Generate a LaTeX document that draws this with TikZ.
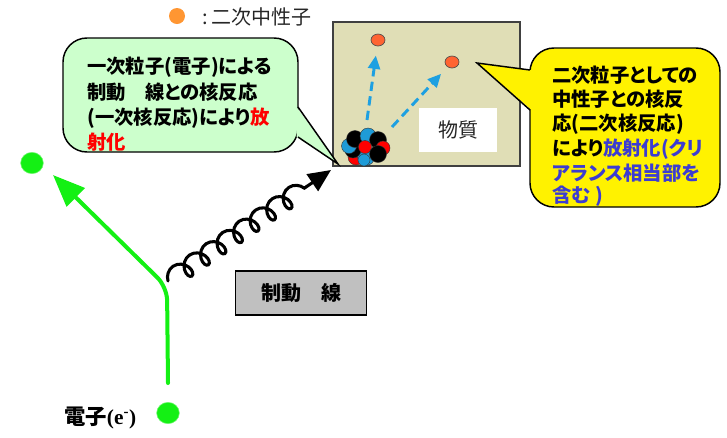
\documentclass[tikz,border=0pt]{standalone}
\usepackage{fontspec}
\newfontfamily\jp[RawFeature=+palt]{Noto Sans CJK JP}
\newfontfamily\tms{Liberation Serif}
\usetikzlibrary{arrows.meta,decorations.pathmorphing,shapes.geometric}

\definecolor{bubblegreen}{RGB}{204,255,204}
\definecolor{elgreen}{RGB}{20,240,20}
\definecolor{nblue}{RGB}{30,160,225}
\definecolor{clearblue}{RGB}{60,60,210}
\definecolor{matbeige}{RGB}{224,222,182}
\definecolor{legorange}{RGB}{255,150,50}
\definecolor{neutronred}{RGB}{255,100,50}
\definecolor{boxgray}{RGB}{192,192,192}
\definecolor{nucblue}{RGB}{30,155,215}

\tikzset{
  outline/.style={draw=black, line width=1.1pt},
  btext/.style={font=\jp\bfseries\fontsize{14.5}{17}\selectfont, anchor=west, inner sep=0pt},
  neutron/.style={ellipse, fill=neutronred, draw=black!70, line width=0.5pt,
    minimum width=10.5pt, minimum height=9pt, inner sep=0pt},
  electron/.style={ellipse, fill=elgreen, draw=elgreen!60!white, line width=0.4pt,
    minimum width=17pt, minimum height=16pt, inner sep=0pt},
  emission/.style={nblue, line width=2.2pt, dash pattern=on 7pt off 4pt,
    -{Triangle[length=10pt,width=9pt]}, shorten >=7pt},
  nucleon/.style={draw=black!80, line width=0.3pt},
}

\begin{document}
\begin{tikzpicture}[x=0.75pt,y=-0.75pt]
\useasboundingbox (0,0) rectangle (727,437);

% legend
\node[circle, fill=legorange, minimum size=12pt, inner sep=0pt] (legdot) at (177,16) {};
\node[font=\jp\fontsize{15}{17}\selectfont, text=black!85, anchor=west, inner sep=0pt]
  (legtext) at (202,17) {:\,二次中性子};

% block of material
\draw[fill=matbeige, draw=black!75, line width=0.8pt] (333,22) rectangle (520,166);
\node[fill=white, minimum width=58.5pt, minimum height=33pt, inner sep=0pt,
  font=\jp\fontsize{15}{17}\selectfont, text=black!85] (matter) at (458,130) {物質};

% secondary neutrons
\node[neutron] (o1) at (378,40) {};
\node[neutron] (o2) at (452,62) {};
\coordinate (s1) at (367,120);
\coordinate (s2) at (392,127);
\draw[emission] (s1) -- (o1);
\draw[emission] (s2) -- (o2);

% activated nucleus
\begin{scope}
\filldraw[nucleon, fill=red]     (356,157) circle (8);
\filldraw[nucleon, fill=nucblue] (366,157) circle (8.5);
\filldraw[nucleon, fill=black]   (353,150) circle (8);
\filldraw[nucleon, fill=nucblue] (349,146) circle (7.5);
\filldraw[nucleon, fill=black]   (355,139) circle (8.5);
\filldraw[nucleon, fill=nucblue] (368,136) circle (8);
\filldraw[nucleon, fill=black]   (378,140) circle (8.5);
\filldraw[nucleon, fill=red]     (383,148) circle (7);
\filldraw[nucleon, fill=red]     (365,147) circle (6.5);
\filldraw[nucleon, fill=black]   (378,154) circle (8.5);
\filldraw[nucleon, fill=nucblue] (364,160) circle (6);
\end{scope}

% callout: primary nuclear reaction
\filldraw[fill=bubblegreen, outline, rounded corners=18] (63,38) rectangle (298,152);
\coordinate (gtip) at (338,164);
\fill[bubblegreen] (296.5,107) -- (gtip) -- (296.5,137) -- cycle;
\draw[outline, line join=miter] (298,107) -- (gtip) -- (298,137);
\node[btext] (g1) at (87,67) {一次粒子(電子)による};
\node[btext] (g2) at (87,92) {制動　線との核反応};
\node[btext] (g3) at (87,118) {(一次核反応)により{\color{red}放}};
\node[btext] (g4) at (87,142) {\color{red}射化};

% callout: secondary nuclear reaction
\filldraw[fill=yellow, outline, rounded corners=18] (530,48) rectangle (720,207);
\coordinate (ytip) at (477,63);
\fill[yellow] (531.5,70) -- (ytip) -- (531.5,110) -- cycle;
\draw[outline, line join=miter] (530,70) -- (ytip) -- (530,110);
\node[btext] (y1) at (552,75) {二次粒子としての};
\node[btext] (y2) at (552,99) {中性子との核反};
\node[btext] (y3) at (552,124) {応(二次核反応)};
\node[btext] (y4) at (552,149) {により{\color{clearblue}放射化(クリ}};
\node[btext, text=clearblue] (y5) at (552,173) {アランス相当部を};
\node[btext, text=clearblue] (y6) at (552,196) {含む )};

% bremsstrahlung photon
\coordinate (ph0) at (168,281);
\coordinate (ph1) at (306,187);
\coordinate (phtip) at (331,170);
\draw[line width=2.3pt, line cap=round, decorate,
  decoration={coil, amplitude=7pt, segment length=15pt, aspect=0.8}] (ph0) -- (ph1);
\draw[line width=2.3pt, -{Triangle[length=17pt,width=15pt]}] (ph1) -- (phtip);

\node[draw=black, line width=0.9pt, fill=boxgray, minimum width=98pt, minimum height=33pt,
  font=\jp\bfseries\fontsize{15}{17}\selectfont] (brems) at (301,293) {制動　線};

% electron path
\node[electron] (e0) at (168,413) {};
\node[electron] (e1) at (32,163) {};
\coordinate (estart) at (168,383);
\coordinate (ebend) at (167,287);
\coordinate (etip) at (53,175);
\draw[elgreen, line width=3pt, rounded corners=10, line cap=round,
  -{Triangle[length=24pt,width=19pt]}] (estart) -- (ebend) -- (etip);

\node[anchor=west, inner sep=0pt] (elabel) at (64,418)
  {\jp\bfseries\fontsize{16}{18}\selectfont 電子\tms\bfseries(e\textsuperscript{-})};
\end{tikzpicture}
\end{document}
